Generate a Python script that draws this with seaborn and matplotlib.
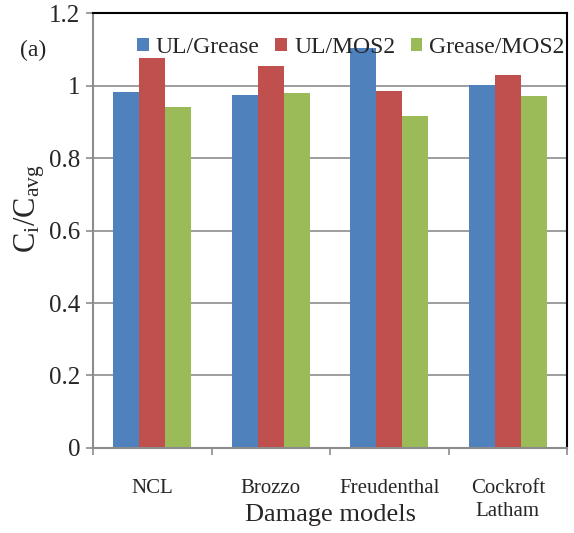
import matplotlib
matplotlib.use("Agg")
import matplotlib.pyplot as plt
import seaborn as sns
import pandas as pd
import numpy as np

categories = ["NCL", "Brozzo", "Freudenthal", "Cockroft\nLatham"]
series = ["UL/Grease", "UL/MOS2", "Grease/MOS2"]
ul_grease = [0.982, 0.974, 1.103, 1.001]
ul_mos2 = [1.076, 1.054, 0.985, 1.029]
grease_mos2 = [0.941, 0.980, 0.916, 0.971]
colors = ["#4F81BD", "#C0504D", "#9BBB59"]
yticks = [0, 0.2, 0.4, 0.6, 0.8, 1, 1.2]
ytick_labels = ["0", "0.2", "0.4", "0.6", "0.8", "1", "1.2"]

df = pd.DataFrame({
    "model": categories * 3,
    "series": [s for s in series for _ in categories],
    "value": ul_grease + ul_mos2 + grease_mos2,
})

sns.set_theme(style="white")
plt.rcParams["font.family"] = ["Liberation Serif", "DejaVu Serif"]
plt.rcParams["mathtext.fontset"] = "custom"
plt.rcParams["mathtext.rm"] = "Liberation Serif"
plt.rcParams["mathtext.it"] = "Liberation Serif"

fig = plt.figure(figsize=(5.74, 5.33), dpi=100)
ax = fig.add_axes([0.162, 0.1595, 0.826, 0.816])
sns.barplot(data=df, x="model", y="value", hue="series", hue_order=series,
            order=categories, palette=colors, width=0.66, ax=ax,
            saturation=1, edgecolor="none", linewidth=0, legend=True)

ax.set_ylim(0, 1.2)
ax.set_xlim(-0.5, 3.5)
ax.set_yticks(yticks)
ax.set_yticklabels(ytick_labels, fontsize=18)
ax.yaxis.grid(True, color="#8c8c8c", linewidth=1.2)
ax.set_axisbelow(True)

ax.set_xticks(range(len(categories)))
ax.set_xticklabels(categories, fontsize=15, linespacing=1.3)
ax.set_xticks(np.arange(-0.5, 4.0, 1.0), minor=True)
ax.tick_params(axis="x", which="major", length=0, pad=22)
ax.tick_params(axis="x", which="minor", length=5, color="#8c8c8c", width=1.2, direction="out", bottom=True)
ax.tick_params(axis="y", length=5, color="#8c8c8c", width=1.2, direction="out", left=True, pad=4)

for side in ["left", "bottom"]:
    ax.spines[side].set_color("#8c8c8c")
    ax.spines[side].set_linewidth(1.5)
for side in ["top", "right"]:
    ax.spines[side].set_color("black")
    ax.spines[side].set_linewidth(1.5)
    ax.spines[side].set_visible(True)

ax.set_xlabel("Damage models", fontsize=19)
ax.xaxis.set_label_coords(0.5, -0.154)
ax.xaxis.label.set_va("center")
ax.set_ylabel(r"$\mathregular{C_i/C_{avg}}$", fontsize=22)
ax.yaxis.set_label_coords(-0.098, 0.55)

leg = ax.legend(loc="upper left", bbox_to_anchor=(0.073, 0.967), ncol=3, frameon=False,
                fontsize=17, handlelength=0.5, handleheight=0.5, handletextpad=0.3,
                columnspacing=0.65, borderaxespad=0)

fig.text(0.035, 0.905, "(a)", fontsize=17, ha="left", va="center")

fig.savefig("out.png", dpi=100)
